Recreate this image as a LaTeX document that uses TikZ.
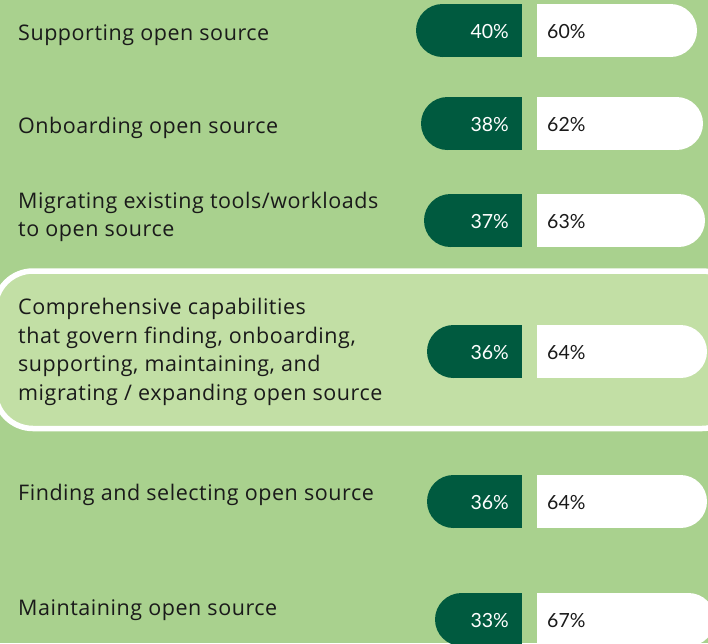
\documentclass[tikz,border=0pt]{standalone}
\usepackage{fontspec}
\setmainfont{Open Sans}[Ligatures=NoCommon, LetterSpace=2.5]
\newfontfamily\pctfont{Lato}[Ligatures=NoCommon]
\definecolor{bg}{HTML}{A9D18E}
\definecolor{hl}{HTML}{C2DFA5}
\definecolor{dk}{HTML}{005A3F}
\definecolor{ink}{HTML}{1A1A1A}
\tikzset{
  lbl/.style={anchor=base west, inner sep=0pt, text=ink, font=\fontsize{21.5}{28.5}\selectfont, align=left},
  pdark/.style={anchor=base east, inner sep=0pt, text=white, font=\pctfont\fontsize{19.5}{24}\selectfont},
  pwhite/.style={anchor=base west, inner sep=0pt, text=ink, font=\pctfont\fontsize{19.5}{24}\selectfont},
}
% #1 name, #2 top y, #3 dark left x, #4 white right x, #5 dark pct, #6 white pct
\newcommand{\pctbar}[6]{%
  \fill[dk] ({#3+26.5},{#2+26.5}) circle (26.5);
  \fill[dk] ({#3+26.5},#2) rectangle (522,{#2+53});
  \fill[white] (537,#2) rectangle ({#4-26.5},{#2+53});
  \fill[white] ({#4-26.5},{#2+26.5}) circle (26.5);
  \node[pdark] (#1a) at (509,{#2+34.3}) {#5\%};
  \node[pwhite] (#1b) at (547,{#2+34.3}) {#6\%};
}
\begin{document}
\begin{tikzpicture}[x=1pt,y=-1pt]
\useasboundingbox (0,0) rectangle (708,643);
\clip (0,0) rectangle (708,643);
\fill[bg] (0,0) rectangle (708,643);
\draw[white, line width=5.5, fill=hl, rounded corners=38] (-5,271) rectangle (740,428.5);
\pctbar{r1}{4}{416}{697}{40}{60}
\pctbar{r2}{97}{421}{703}{38}{62}
\pctbar{r3}{194}{424}{705}{37}{63}
\pctbar{r4}{325}{427}{707}{36}{64}
\pctbar{r5}{475}{427}{707}{36}{64}
\pctbar{r6}{593}{435}{715}{33}{67}
\node[lbl] (l1) at (18,40.5) {Supporting open source};
\node[lbl] (l2) at (18,133.3) {Onboarding open source};
\node[lbl] (l3) at (18,236.7) {Migrating existing tools/workloads\\to open source};
\node[lbl] (l4) at (18,400) {Comprehensive capabilities\\that govern finding, onboarding,\\supporting, maintaining, and\\migrating / expanding open source};
\node[lbl] (l5) at (18,500) {Finding and selecting open source};
\node[lbl] (l6) at (18,615) {Maintaining open source};
\end{tikzpicture}
\end{document}
